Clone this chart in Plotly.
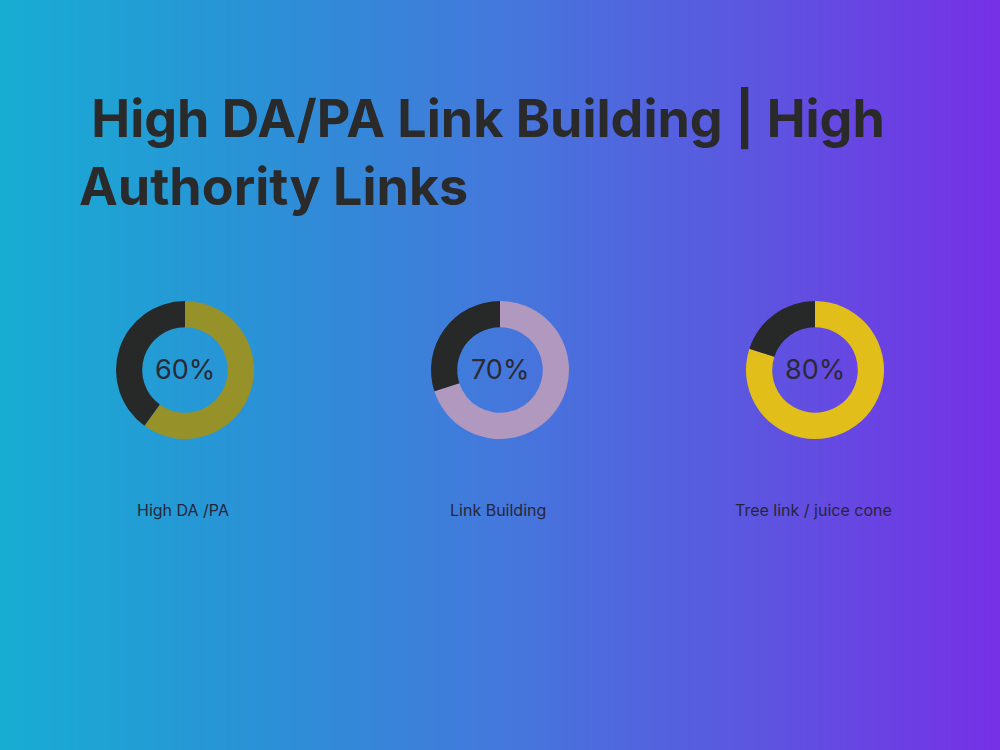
import plotly.graph_objects as go
import numpy as np

# ---- data ----
categories = ["High DA /PA", "Link Building", "Tree link / juice cone"]
percent_values = [60, 70, 80]
slice_colors = ["#97912A", "#B198BE", "#E1BE1A"]
rest_color = "#272828"
title_lines = [" High DA/PA Link Building | High", "Authority Links"]

# background gradient stops
grad_stops = [(0.0, "#17ADD3"), (0.25, "#2A92D6"), (0.5, "#4478DC"), (0.75, "#5C56E0"), (1.0, "#7630E6")]

W, H = 1000, 750
fig = go.Figure()

# gradient background via heatmap
nx = 200
fig.add_trace(go.Heatmap(
    z=[list(np.linspace(0, 1, nx))],
    x=list(np.linspace(0, 1, nx)), y=[0],
    colorscale=[[s, c] for s, c in grad_stops],
    showscale=False, hoverinfo="skip", zsmooth="best",
    xaxis="x", yaxis="y",
))

centers_x = [185, 500, 815]
center_y = 370
radius = 69
text_font = "Inter, Roboto, sans-serif"

for i, (cat, val, col) in enumerate(zip(categories, percent_values, slice_colors)):
    cx = centers_x[i]
    x0, x1 = (cx - radius) / W, (cx + radius) / W
    y0, y1 = (H - center_y - radius) / H, (H - center_y + radius) / H
    fig.add_trace(go.Pie(
        values=[val, 100 - val],
        marker=dict(colors=[col, rest_color], line=dict(width=0)),
        hole=0.62, sort=False, direction="clockwise", rotation=0,
        textinfo="none", hoverinfo="skip", showlegend=False,
        domain=dict(x=[x0, x1], y=[y0, y1]),
    ))
    fig.add_annotation(
        x=cx / W, y=(H - center_y) / H, xref="paper", yref="paper",
        text=f"{val}%", showarrow=False,
        font=dict(family=text_font, size=27, color="#2A2A33"),
        xanchor="center", yanchor="middle",
    )
    fig.add_annotation(
        x=(cx - 2) / W, y=(H - 510) / H, xref="paper", yref="paper",
        text=cat, showarrow=False,
        font=dict(family=text_font, size=16, color="#26263A"),
        xanchor="center", yanchor="middle",
    )

# title (two lines in one text block)
title_text = "<br>".join(
    (t.replace(" ", "&nbsp;", 1) if t.startswith(" ") else t) for t in title_lines
)
fig.add_annotation(
    x=77 / W, y=(H - 152) / H, xref="paper", yref="paper",
    text=title_text, showarrow=False, align="left",
    font=dict(family=text_font, size=52, color="#2A2A2A", weight="bold"),
    xanchor="left", yanchor="middle",
)

fig.update_layout(
    width=W, height=H,
    margin=dict(l=0, r=0, t=0, b=0),
    paper_bgcolor="#4478DC", plot_bgcolor="rgba(0,0,0,0)",
    xaxis=dict(domain=[0, 1], range=[0, 1], visible=False, fixedrange=True),
    yaxis=dict(domain=[0, 1], range=[-0.5, 0.5], visible=False, fixedrange=True),
    showlegend=False,
)

fig.write_html("out.html")
